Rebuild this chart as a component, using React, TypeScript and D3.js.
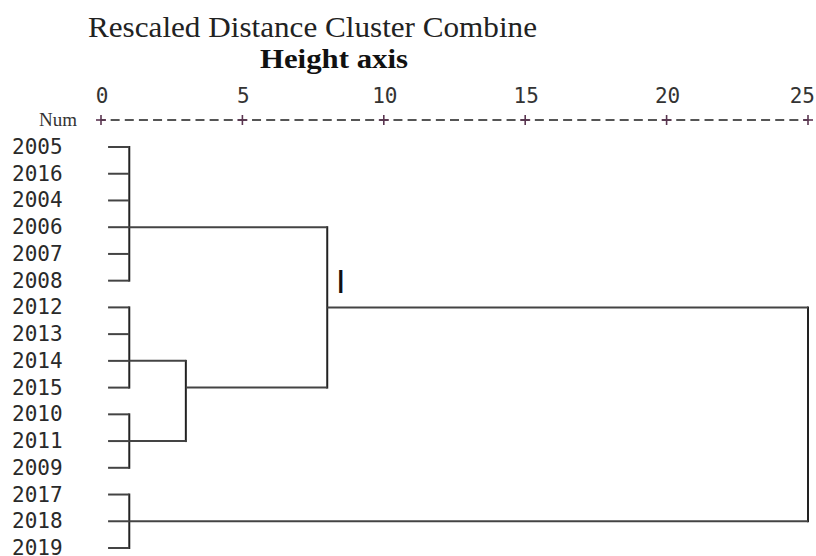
import * as d3 from 'd3';

// leaf order, top to bottom
const leaves = [
  '2005', '2016', '2004', '2006', '2007', '2008',
  '2012', '2013', '2014', '2015',
  '2010', '2011', '2009',
  '2017', '2018', '2019',
];

// merges: children (leaf or cluster ids), rescaled distance, row the link is drawn on
const merges = [
  { id: 'A', children: ['2005', '2016', '2004', '2006', '2007', '2008'], height: 1, row: '2006' },
  { id: 'B', children: ['2012', '2013', '2014', '2015'], height: 1, row: '2014' },
  { id: 'C', children: ['2010', '2011', '2009'], height: 1, row: '2011' },
  { id: 'D', children: ['2017', '2018', '2019'], height: 1, row: '2018' },
  { id: 'BC', children: ['B', 'C'], height: 3, row: '2015' },
  { id: 'ABC', children: ['A', 'BC'], height: 8, row: '2012' },
  { id: 'ALL', children: ['ABC', 'D'], height: 25, row: '2012' },
];

const ticks = [0, 5, 10, 15, 20, 25];

const W = 816;
const H = 556;

export default function App() {
  const x = d3.scaleLinear().domain([0, 25]).range([101, 808]);
  const y = d3.scalePoint<string>().domain(leaves).range([147, 548]);
  const axisY = 120;
  const leafStart = 0.25;

  const byId = new Map(merges.map(m => [m.id, m]));
  const rowOf = (id: string) => (byId.has(id) ? y(byId.get(id)!.row)! : y(id)!);
  const heightOf = (id: string) => (byId.has(id) ? byId.get(id)!.height : leafStart);

  // one dash per half unit, like the "+---------+" text ruler
  const step = x(0.5) - x(0);
  const dash = 9;

  const links: JSX.Element[] = [];
  merges.forEach(m => {
    const ys = m.children.map(rowOf);
    links.push(
      <line
        key={m.id + '-v'}
        x1={x(m.height)}
        x2={x(m.height)}
        y1={d3.min(ys)! - 1}
        y2={d3.max(ys)! + 1}
        stroke='#222'
        strokeWidth={2}
      />
    );
    m.children.forEach(c => {
      links.push(
        <line
          key={m.id + '-' + c}
          x1={x(heightOf(c))}
          x2={x(m.height)}
          y1={rowOf(c)}
          y2={rowOf(c)}
          stroke='#444'
          strokeWidth={2}
        />
      );
    });
  });

  return (
    <svg
      width={W}
      height={H}
      style={{ position: 'absolute', left: 0, top: 0, background: '#fff' }}
    >
      <text
        x={88}
        y={37}
        fontFamily='Liberation Serif, serif'
        fontSize={30}
        fill='#222'
        textLength={449}
        lengthAdjust='spacingAndGlyphs'
      >
        Rescaled Distance Cluster Combine
      </text>
      <text
        x={260}
        y={68}
        fontFamily='Liberation Serif, serif'
        fontWeight='bold'
        fontSize={28}
        fill='#111'
        textLength={148}
        lengthAdjust='spacingAndGlyphs'
      >
        Height axis
      </text>

      {/* tick labels */}
      {ticks.map((t, i) => (
        <text
          key={'t' + t}
          x={i === ticks.length - 1 ? W - 1 : x(t) + 1}
          y={103}
          textAnchor={i === ticks.length - 1 ? 'end' : 'middle'}
          fontFamily='DejaVu Sans Mono, monospace'
          fontSize={21}
          fill='#333'
        >
          {t}
        </text>
      ))}

      <text
        x={77}
        y={126}
        textAnchor='end'
        fontFamily='Liberation Serif, serif'
        fontSize={19}
        fill='#333'
      >
        Num
      </text>

      {/* dashed ruler */}
      <line
        x1={x(0)}
        x2={x(25)}
        y1={axisY}
        y2={axisY}
        stroke='#555'
        strokeWidth={2}
        strokeDasharray={`${dash} ${step - dash}`}
        strokeDashoffset={dash / 2}
      />
      {ticks.map(t => (
        <g key={'p' + t} stroke='#5a3550' strokeWidth={1.6}>
          <line x1={x(t) - 5} x2={x(t) + 5} y1={axisY} y2={axisY} />
          <line x1={x(t)} x2={x(t)} y1={axisY - 5} y2={axisY + 5} />
        </g>
      ))}

      {/* leaf labels */}
      {leaves.map(l => (
        <text
          key={l}
          x={12}
          y={y(l)! + 7}
          fontFamily='DejaVu Sans Mono, monospace'
          fontSize={21}
          fill='#2a2a2a'
        >
          {l}
        </text>
      ))}

      {links}

      <text
        x={336}
        y={293}
        fontFamily='Liberation Sans, sans-serif'
        fontSize={34}
        fill='#111'
      >
        I
      </text>
    </svg>
  );
}
